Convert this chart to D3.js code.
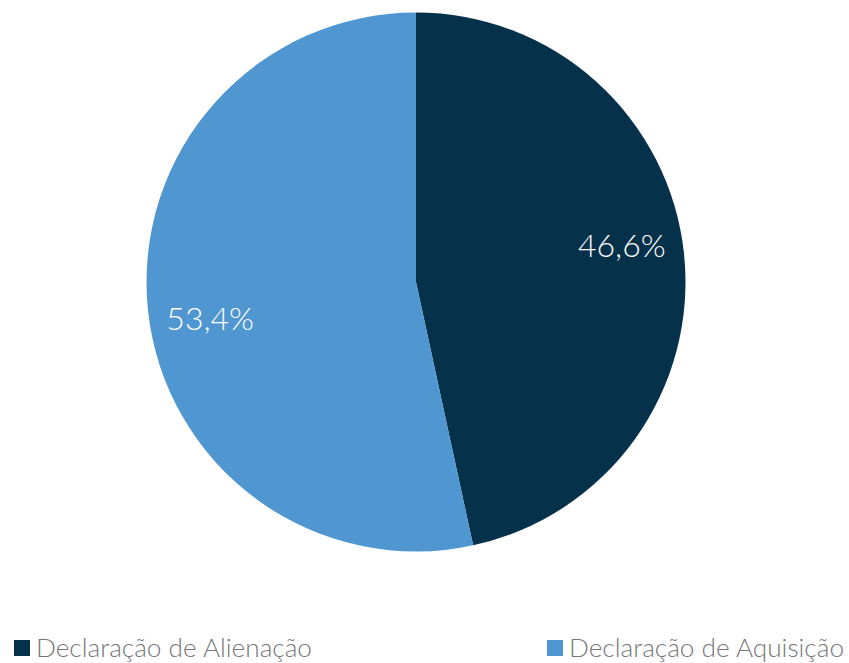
<!DOCTYPE html>
<html>
<head>
<meta charset="utf-8">
<script src="https://cdn.jsdelivr.net/npm/d3@7"></script>
<style>
  body { margin: 0; background: #fff; }
  svg text { font-family: Lato, "Open Sans", sans-serif; font-weight: 300; }
</style>
</head>
<body>
<svg id="chart" width="849" height="663"></svg>
<script>
const categories = ['Declaração de Alienação', 'Declaração de Aquisição'];
const values = [46.6, 53.4];
const labels = ['46,6%', '53,4%'];
const colors = ['#06314a', '#5096d1'];

const w = 849, h = 663;
const svg = d3.select('#chart');
const cx = 416, cy = 282, r = 269.5;

const data = categories.map(function(c, i) {
  return { name: c, value: values[i], label: labels[i], color: colors[i] };
});

const pie = d3.pie().sort(null).value(function(d) { return d.value; });
const arc = d3.arc().innerRadius(0).outerRadius(r);
const labelArc = d3.arc().innerRadius(209).outerRadius(209);
// labels sit slightly counter-clockwise of the slice midpoint
const labelShift = -0.068;

const g = svg.append('g').attr('transform', `translate(${cx},${cy})`);
const arcs = pie(data);

g.selectAll('path')
  .data(arcs)
  .enter().append('path')
  .attr('d', arc)
  .attr('fill', function(d) { return d.data.color; });

g.selectAll('text.lbl')
  .data(arcs)
  .enter().append('text')
  .attr('class', 'lbl')
  .attr('transform', function(d) {
    const s = { startAngle: d.startAngle + labelShift, endAngle: d.endAngle + labelShift };
    return `translate(${labelArc.centroid(s)})`;
  })
  .attr('text-anchor', 'middle')
  .attr('dy', '0.35em')
  .attr('fill', '#fff')
  .style('font-size', '32px')
  .text(function(d) { return d.data.label; });

// legend
const legendX = [14, 547];
const legend = svg.selectAll('g.legend')
  .data(data)
  .enter().append('g')
  .attr('class', 'legend')
  .attr('transform', function(d, i) { return `translate(${legendX[i]},640)`; });

legend.append('rect')
  .attr('width', 16).attr('height', 16)
  .attr('fill', function(d) { return d.color; });

legend.append('text')
  .attr('x', 22).attr('y', 17)
  .attr('fill', '#777')
  .style('font-size', '26.2px')
  .text(function(d) { return d.name; });
</script>
</body>
</html>
